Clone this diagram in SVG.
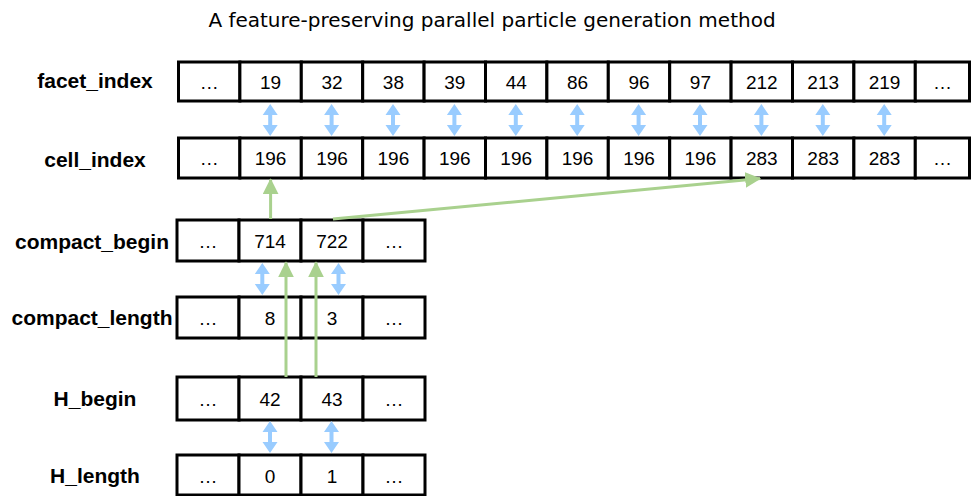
<svg xmlns="http://www.w3.org/2000/svg" width="971" height="496" viewBox="0 0 971 496">
  <style>
    .cell { fill: #ffffff; stroke: #000000; stroke-width: 3; }
    .val { font-family: "Liberation Sans", Arial, sans-serif; font-size: 19px; text-anchor: middle; fill: #000000; }
    .lbl { font-family: "Liberation Sans", Arial, sans-serif; font-size: 21px; font-weight: bold; text-anchor: middle; fill: #000000; }
    .title { font-family: "DejaVu Sans", "Noto Sans", sans-serif; font-size: 20px; text-anchor: middle; fill: #000000; }
    .blue { fill: #99CCFF; }
    .green { stroke: #A9D18E; stroke-width: 3; fill: none; marker-end: url(#gh); }
  </style>
  <defs>
    <!-- vertical double-headed link, centred on the origin -->
    <polygon id="dbl" points="0,-16 7.5,-5 2,-5 2,5 7.5,5 0,16 -7.5,5 -2,5 -2,-5 -7.5,-5"/>
    <marker id="gh" markerUnits="userSpaceOnUse" markerWidth="16" markerHeight="16" viewBox="0 0 14 14" refX="13" refY="7" orient="auto">
      <path d="M0,0 L14,7 L0,14 Z" fill="#A9D18E"/>
    </marker>
  </defs>

  <text class="title" x="492" y="27">A feature-preserving parallel particle generation method</text>

  <!-- row labels -->
  <g id="labels">
    <text class="lbl" x="95" y="88">facet_index</text>
    <text class="lbl" x="95" y="167">cell_index</text>
    <text class="lbl" x="92" y="249">compact_begin</text>
    <text class="lbl" x="92" y="325">compact_length</text>
    <text class="lbl" x="95" y="406">H_begin</text>
    <text class="lbl" x="95" y="483">H_length</text>
  </g>

  <g id="facet_index">
    <rect class="cell" x="178.5" y="62" width="61.4" height="39"/>
    <rect class="cell" x="239.9" y="62" width="61.4" height="39"/>
    <rect class="cell" x="301.3" y="62" width="61.4" height="39"/>
    <rect class="cell" x="362.7" y="62" width="61.4" height="39"/>
    <rect class="cell" x="424.1" y="62" width="61.4" height="39"/>
    <rect class="cell" x="485.5" y="62" width="61.4" height="39"/>
    <rect class="cell" x="546.9" y="62" width="61.4" height="39"/>
    <rect class="cell" x="608.3" y="62" width="61.4" height="39"/>
    <rect class="cell" x="669.7" y="62" width="61.4" height="39"/>
    <rect class="cell" x="731.1" y="62" width="61.4" height="39"/>
    <rect class="cell" x="792.5" y="62" width="61.4" height="39"/>
    <rect class="cell" x="853.9" y="62" width="61.4" height="39"/>
    <rect class="cell" x="915.3" y="62" width="54.2" height="39"/>
    <text class="val" x="209.2" y="89">…</text>
    <text class="val" x="270.6" y="89">19</text>
    <text class="val" x="332" y="89">32</text>
    <text class="val" x="393.4" y="89">38</text>
    <text class="val" x="454.8" y="89">39</text>
    <text class="val" x="516.2" y="89">44</text>
    <text class="val" x="577.6" y="89">86</text>
    <text class="val" x="639" y="89">96</text>
    <text class="val" x="700.4" y="89">97</text>
    <text class="val" x="761.8" y="89">212</text>
    <text class="val" x="823.2" y="89">213</text>
    <text class="val" x="884.6" y="89">219</text>
    <text class="val" x="942.4" y="89">…</text>
  </g>

  <g id="cell_index">
    <rect class="cell" x="178.5" y="138" width="61.4" height="40"/>
    <rect class="cell" x="239.9" y="138" width="61.4" height="40"/>
    <rect class="cell" x="301.3" y="138" width="61.4" height="40"/>
    <rect class="cell" x="362.7" y="138" width="61.4" height="40"/>
    <rect class="cell" x="424.1" y="138" width="61.4" height="40"/>
    <rect class="cell" x="485.5" y="138" width="61.4" height="40"/>
    <rect class="cell" x="546.9" y="138" width="61.4" height="40"/>
    <rect class="cell" x="608.3" y="138" width="61.4" height="40"/>
    <rect class="cell" x="669.7" y="138" width="61.4" height="40"/>
    <rect class="cell" x="731.1" y="138" width="61.4" height="40"/>
    <rect class="cell" x="792.5" y="138" width="61.4" height="40"/>
    <rect class="cell" x="853.9" y="138" width="61.4" height="40"/>
    <rect class="cell" x="915.3" y="138" width="54.2" height="40"/>
    <text class="val" x="209.2" y="165">…</text>
    <text class="val" x="270.6" y="165">196</text>
    <text class="val" x="332" y="165">196</text>
    <text class="val" x="393.4" y="165">196</text>
    <text class="val" x="454.8" y="165">196</text>
    <text class="val" x="516.2" y="165">196</text>
    <text class="val" x="577.6" y="165">196</text>
    <text class="val" x="639" y="165">196</text>
    <text class="val" x="700.4" y="165">196</text>
    <text class="val" x="761.8" y="165">283</text>
    <text class="val" x="823.2" y="165">283</text>
    <text class="val" x="884.6" y="165">283</text>
    <text class="val" x="942.4" y="165">…</text>
  </g>

  <g id="compact_begin">
    <rect class="cell" x="177" y="220" width="62" height="41"/>
    <rect class="cell" x="239" y="220" width="62" height="41"/>
    <rect class="cell" x="301" y="220" width="62" height="41"/>
    <rect class="cell" x="363" y="220" width="62" height="41"/>
    <text class="val" x="208" y="248">…</text>
    <text class="val" x="270" y="248">714</text>
    <text class="val" x="332" y="248">722</text>
    <text class="val" x="394" y="248">…</text>
  </g>

  <g id="compact_length">
    <rect class="cell" x="177" y="297" width="62" height="41"/>
    <rect class="cell" x="239" y="297" width="62" height="41"/>
    <rect class="cell" x="301" y="297" width="62" height="41"/>
    <rect class="cell" x="363" y="297" width="62" height="41"/>
    <text class="val" x="208" y="325">…</text>
    <text class="val" x="270" y="325">8</text>
    <text class="val" x="332" y="325">3</text>
    <text class="val" x="394" y="325">…</text>
  </g>

  <g id="H_begin">
    <rect class="cell" x="177" y="377" width="62" height="43"/>
    <rect class="cell" x="239" y="377" width="62" height="43"/>
    <rect class="cell" x="301" y="377" width="62" height="43"/>
    <rect class="cell" x="363" y="377" width="62" height="43"/>
    <text class="val" x="208" y="406">…</text>
    <text class="val" x="270" y="406">42</text>
    <text class="val" x="332" y="406">43</text>
    <text class="val" x="394" y="406">…</text>
  </g>

  <g id="H_length">
    <rect class="cell" x="177" y="455" width="62" height="40"/>
    <rect class="cell" x="239" y="455" width="62" height="40"/>
    <rect class="cell" x="301" y="455" width="62" height="40"/>
    <rect class="cell" x="363" y="455" width="62" height="40"/>
    <text class="val" x="208" y="483">…</text>
    <text class="val" x="270" y="483">0</text>
    <text class="val" x="332" y="483">1</text>
    <text class="val" x="394" y="483">…</text>
  </g>

  <g id="connectors">
    <!-- facet_index <-> cell_index -->
    <use href="#dbl" class="blue" x="270.2" y="120"/>
    <use href="#dbl" class="blue" x="331.6" y="120"/>
    <use href="#dbl" class="blue" x="393" y="120"/>
    <use href="#dbl" class="blue" x="454.4" y="120"/>
    <use href="#dbl" class="blue" x="515.8" y="120"/>
    <use href="#dbl" class="blue" x="577.2" y="120"/>
    <use href="#dbl" class="blue" x="638.6" y="120"/>
    <use href="#dbl" class="blue" x="700" y="120"/>
    <use href="#dbl" class="blue" x="761.4" y="120"/>
    <use href="#dbl" class="blue" x="822.8" y="120"/>
    <use href="#dbl" class="blue" x="884.2" y="120"/>
    <!-- compact_begin <-> compact_length -->
    <use href="#dbl" class="blue" x="262.3" y="279"/>
    <use href="#dbl" class="blue" x="338.5" y="279"/>
    <!-- H_begin <-> H_length -->
    <use href="#dbl" class="blue" x="270" y="437"/>
    <use href="#dbl" class="blue" x="331.5" y="437"/>
    <!-- index lookups -->
    <line class="green" x1="270.6" y1="219" x2="270.6" y2="179.5"/>
    <line class="green" x1="333" y1="219" x2="760" y2="178.5"/>
    <line class="green" x1="286" y1="377" x2="286" y2="262.5"/>
    <line class="green" x1="316" y1="377" x2="316" y2="262.5"/>
  </g>
</svg>
